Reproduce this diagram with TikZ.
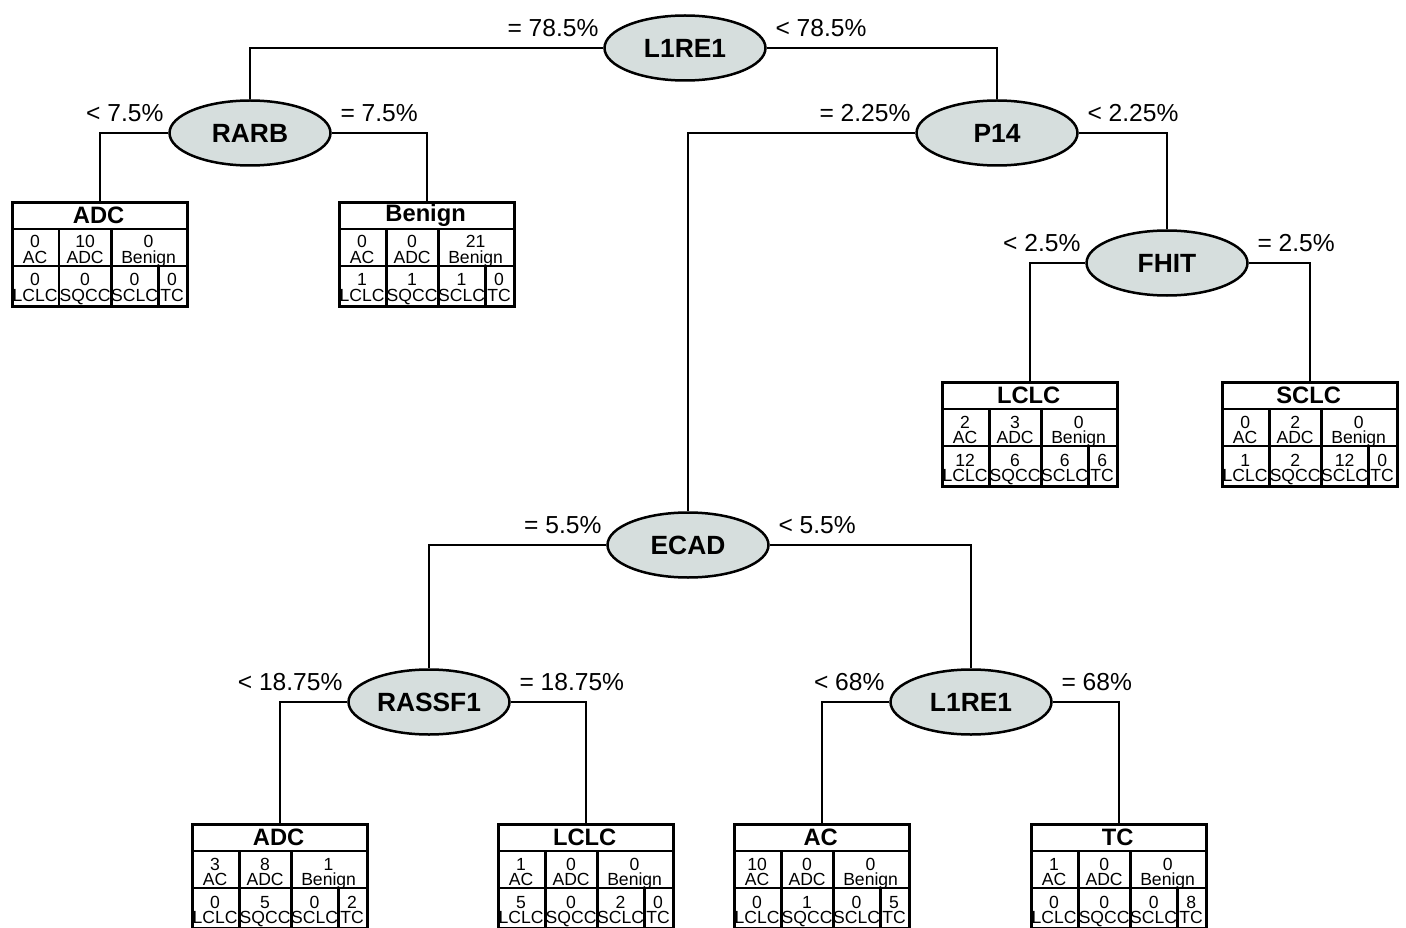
\documentclass[tikz,border=0pt]{standalone}
\usepackage{fontspec}
\setmainfont{Liberation Sans}
\usetikzlibrary{shapes.geometric}
\definecolor{splitgray}{RGB}{214,222,221}
\tikzset{
  split/.style={ellipse, draw, line width=0.5mm, fill=splitgray, minimum width=32.2mm, minimum height=13mm, inner sep=0pt, font=\fontsize{15}{15}\selectfont\bfseries},
  leafbox/.style={draw, line width=0.55mm, anchor=north, minimum width=35mm, minimum height=20.8mm, inner sep=0pt},
  edge/.style={line width=0.3mm},
  cut/.style={font=\fontsize{14}{14}\selectfont, inner sep=0pt, pos=0, yshift=2.2mm},
  lt/.style={cut, anchor=south east, xshift=-0.8mm},
  rt/.style={cut, anchor=south west, xshift=1.6mm},
  cell/.style={font=\fontsize{10}{10}\selectfont, inner sep=0pt, anchor=base},
}
\begin{document}
\begin{tikzpicture}[x=0.2mm, y=-0.2mm, line join=miter]
\useasboundingbox (0,0) rectangle (1406,928);
\clip (0,0) rectangle (1406,928);
% split nodes
\node[split] (root) at (685,48) {L1RE1};
\node[split] (rarb) at (250,133) {RARB};
\node[split] (p14) at (997,133) {P14};
\node[split] (fhit) at (1167,263) {FHIT};
\node[split] (ecad) at (688,545) {ECAD};
\node[split] (rassf) at (429,702) {RASSF1};
\node[split] (lre) at (971,702) {L1RE1};
% leaves: name/x/y/class/AC/ADC/Benign/LCLC/SQCC/SCLC/TC
\foreach \nm/\px/\py/\ttl/\nac/\nadc/\nben/\nlc/\nsq/\nsc/\ntc in {
  adcA/100/201/ADC/0/10/0/0/0/0/0,
  benA/427/201/Benign/0/0/21/1/1/1/0,
  lclcA/1030/381/LCLC/2/3/0/12/6/6/6,
  sclcA/1310/381/SCLC/0/2/0/1/2/12/0,
  adcB/280/823/ADC/3/8/1/0/5/0/2,
  lclcB/586/823/LCLC/1/0/0/5/0/2/0,
  acB/822/823/AC/10/0/0/0/1/0/5,
  tcB/1119/823/TC/1/0/0/0/0/0/8}{
  \node[leafbox] (\nm) at (\px,\py) {};
  \begin{scope}[shift={(\nm.north west)}]
    \draw[line width=0.55mm] (0,28) -- (175,28) (0,65) -- (175,65)
      (48,28) -- (48,104) (100,28) -- (100,104) (147,65) -- (147,104);
    \node[font=\fontsize{13.5}{13.5}\selectfont\bfseries, inner sep=0pt] (\nm-t) at (87.5,14) {\ttl};
    \foreach \cx/\cy/\v/\l [count=\k] in {24/47/\nac/AC, 74/47/\nadc/ADC, 137.5/47/\nben/Benign,
        24/85/\nlc/LCLC, 74/85/\nsq/SQCC, 123.5/85/\nsc/SCLC, 161/85/\ntc/TC}{
      \node[cell] (\nm-v\k) at (\cx,\cy) {\v};
      \node[cell] (\nm-l\k) at (\cx,\cy+15.5) {\l};
    }
  \end{scope}
}
% branches
\draw[edge] (root.west) -| (rarb.north) node[lt] (c1) {= 78.5\%};
\draw[edge] (root.east) -| (p14.north) node[rt] (c2) {< 78.5\%};
\draw[edge] (rarb.west) -| (adcA.north) node[lt] (c3) {< 7.5\%};
\draw[edge] (rarb.east) -| (benA.north) node[rt] (c4) {= 7.5\%};
\draw[edge] (p14.west) -| (ecad.north) node[lt] (c5) {= 2.25\%};
\draw[edge] (p14.east) -| (fhit.north) node[rt] (c6) {< 2.25\%};
\draw[edge] (fhit.west) -| (lclcA.north) node[lt] (c7) {< 2.5\%};
\draw[edge] (fhit.east) -| (sclcA.north) node[rt] (c8) {= 2.5\%};
\draw[edge] (ecad.west) -| (rassf.north) node[lt] (c9) {= 5.5\%};
\draw[edge] (ecad.east) -| (lre.north) node[rt] (c10) {< 5.5\%};
\draw[edge] (rassf.west) -| (adcB.north) node[lt] (c11) {< 18.75\%};
\draw[edge] (rassf.east) -| (lclcB.north) node[rt] (c12) {= 18.75\%};
\draw[edge] (lre.west) -| (acB.north) node[lt] (c13) {< 68\%};
\draw[edge] (lre.east) -| (tcB.north) node[rt] (c14) {= 68\%};
\end{tikzpicture}
\end{document}
